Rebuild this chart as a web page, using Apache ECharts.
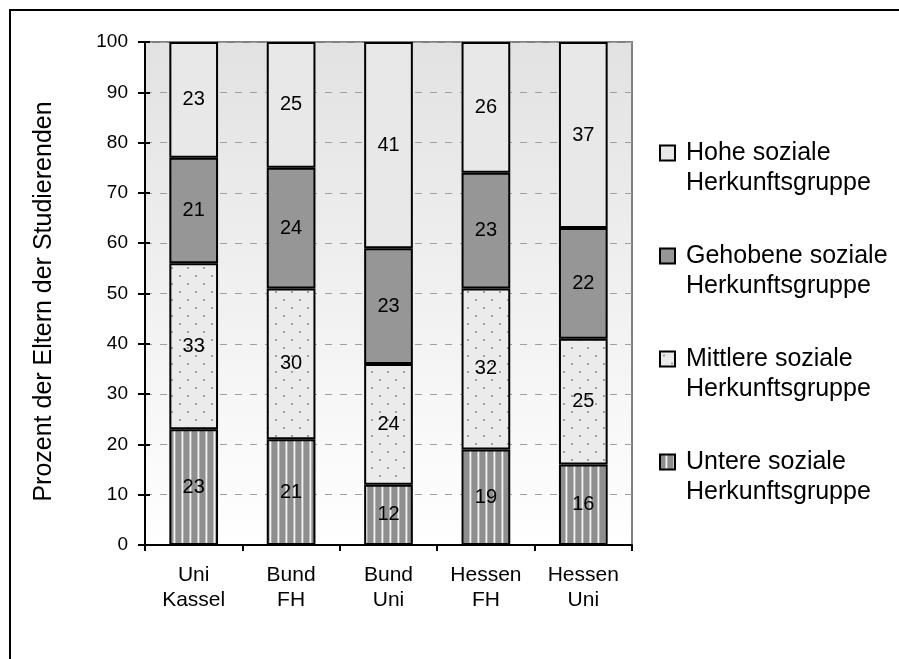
<!DOCTYPE html>
<html><head><meta charset="utf-8">
<script src="https://cdn.jsdelivr.net/npm/echarts@6/dist/echarts.min.js"></script>
<style>html,body{margin:0;padding:0;background:#fff}#c{width:899px;height:659px}</style>
</head><body><div id="c"></div>
<script>
const categories = ['Uni\nKassel', 'Bund\nFH', 'Bund\nUni', 'Hessen\nFH', 'Hessen\nUni'];
const untere = [23, 21, 12, 19, 16];
const mittlere = [33, 30, 24, 32, 25];
const gehobene = [21, 24, 23, 23, 22];
const hohe = [23, 25, 41, 26, 37];
const names = {
  untere: 'Untere soziale\nHerkunftsgruppe',
  mittlere: 'Mittlere soziale\nHerkunftsgruppe',
  gehobene: 'Gehobene soziale\nHerkunftsgruppe',
  hohe: 'Hohe soziale\nHerkunftsgruppe'
};
const yMin = 0, yMax = 100, yInterval = 10;
const axisTitle = 'Prozent der Eltern der Studierenden';

const F = 'Liberation Sans, Arial, sans-serif';

function dotPattern() {
  const c = document.createElement('canvas'); c.width = 16; c.height = 16;
  const g = c.getContext('2d');
  g.fillStyle = '#ebebeb'; g.fillRect(0, 0, 16, 16);
  g.fillStyle = '#a2a2a2';
  g.fillRect(3, 3, 2, 2); g.fillRect(11, 11, 2, 2);
  return c;
}
function stripePattern() {
  const c = document.createElement('canvas'); c.width = 8; c.height = 4;
  const g = c.getContext('2d');
  g.fillStyle = '#8f8f8f'; g.fillRect(0, 0, 8, 4);
  g.fillStyle = '#c2c2c2'; g.fillRect(5, 0, 1, 4);
  g.fillStyle = '#f4f4f4'; g.fillRect(6, 0, 1, 4);
  g.fillStyle = '#b0b0b0'; g.fillRect(7, 0, 1, 4);
  return c;
}

function bar(name, data, color) {
  return {
    name, type: 'bar', stack: 'total', data, barWidth: '50%',
    itemStyle: { color, borderColor: '#000', borderWidth: 2 },
    label: { show: true, position: 'inside', color: '#000', fontFamily: F, fontSize: 20, textBorderWidth: 0 },
    emphasis: { disabled: true }
  };
}

const chart = echarts.init(document.getElementById('c'), null, { renderer: 'canvas' });
chart.setOption({
  animation: false,
  backgroundColor: '#fff',
  graphic: [{
    type: 'rect', silent: true, z: -10,
    shape: { x: 10, y: 10, width: 1000, height: 1000 },
    style: { fill: 'none', stroke: '#000', lineWidth: 2 }
  }],
  grid: {
    left: 145, right: 267, top: 42, bottom: 114, show: true,
    borderColor: '#808080', borderWidth: 2,
    backgroundColor: { type: 'linear', x: 0, y: 0, x2: 0, y2: 1,
      colorStops: [{ offset: 0, color: '#e2e2e2' }, { offset: 1, color: '#ffffff' }] }
  },
  legend: {
    orient: 'vertical', left: 659, top: 108, padding: 0,
    itemWidth: 15, itemHeight: 15, itemGap: 13, icon: 'rect',
    data: [names.hohe, names.gehobene, names.mittlere, names.untere],
    formatter: (n) => '\n' + n,
    textStyle: { fontFamily: F, fontSize: 25, lineHeight: 30, color: '#000', padding: [0, 0, 0, 6] }
  },
  xAxis: {
    type: 'category', data: categories,
    axisLine: { lineStyle: { color: '#000', width: 2 } },
    axisTick: { show: true, length: 6, alignWithLabel: false, lineStyle: { color: '#000', width: 2 } },
    axisLabel: { interval: 0, fontFamily: F, fontSize: 21, lineHeight: 25, color: '#000', margin: 18 }
  },
  yAxis: [{
    type: 'value', min: yMin, max: yMax, interval: yInterval,
    name: axisTitle, nameLocation: 'middle', nameGap: 88, nameRotate: 90,
    nameTextStyle: { fontFamily: F, fontSize: 25, color: '#000', padding: [0, 16, 0, 0] },
    axisLine: { show: true, lineStyle: { color: '#000', width: 2 } },
    axisTick: { show: true, length: 7, lineStyle: { color: '#000', width: 2 } },
    axisLabel: { fontFamily: F, fontSize: 19, color: '#000', margin: 17 },
    splitLine: { show: true, lineStyle: { color: '#a0a0a0', width: 1, type: [7, 8] } }
  }, {
    type: 'value', min: yMin, max: yMax, interval: yInterval, position: 'left',
    axisLine: { show: false },
    axisTick: { show: true, inside: true, length: 5, lineStyle: { color: '#000', width: 2 } },
    axisLabel: { show: false }, splitLine: { show: false }
  }],
  series: [
    bar(names.untere, untere, { image: stripePattern(), repeat: 'repeat' }),
    bar(names.mittlere, mittlere, { image: dotPattern(), repeat: 'repeat' }),
    bar(names.gehobene, gehobene, '#969696'),
    bar(names.hohe, hohe, '#e8e8e8')
  ]
});
</script>
</body></html>
